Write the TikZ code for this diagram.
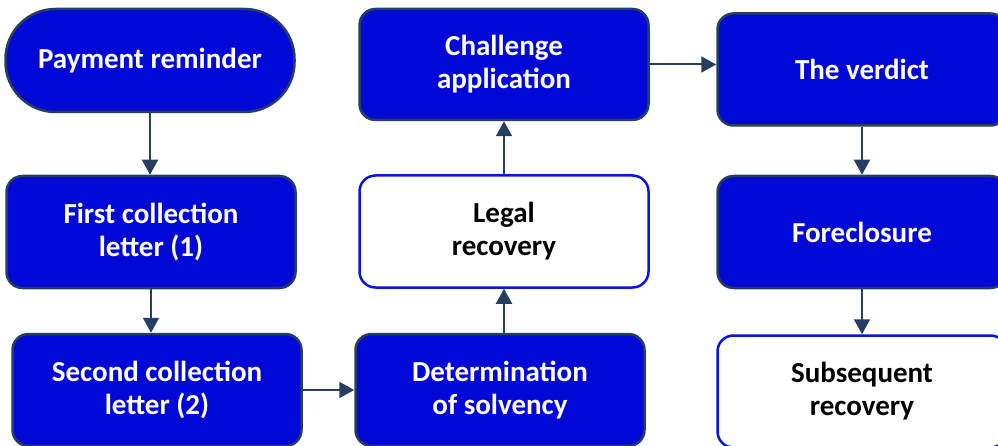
\documentclass[tikz,border=0pt]{standalone}
\usepackage{fontspec}
\setmainfont{Carlito}
\usetikzlibrary{arrows.meta}
\definecolor{boxblue}{RGB}{2,8,214}
\definecolor{edgenavy}{RGB}{38,62,98}
\definecolor{lineblue}{RGB}{10,20,226}
\def\colw{289}
\def\rowh{112}

\begin{document}
\begin{tikzpicture}[x=1pt, y=-1pt,
    stepbox/.style={draw=edgenavy, line width=2.5pt, fill=boxblue, text=white,
      rounded corners=16pt, minimum width=\colw pt, minimum height=\rowh pt,
      inner sep=0pt, align=center, font=\fontsize{29}{33}\selectfont\bfseries},
    stadium/.style={stepbox, minimum height=103pt, rounded corners=50pt},
    openbox/.style={stepbox, draw=lineblue, fill=white, text=black},
    flow/.style={draw=edgenavy, line width=2pt, -{Triangle[width=16pt, length=15pt]}}]
    \useasboundingbox (0,0) rectangle (998,446);

    \node[stadium] (remind) at (150,60.5) {Payment reminder};
    \node[stepbox] (first) at (151,232) {First collection\\letter (1)};
    \node[stepbox] (second) at (157,390) {Second collection\\letter (2)};
    \node[stepbox] (solv) at (500,390) {Determination\\of solvency};
    \node[openbox] (legal) at (504,231.5) {Legal\\recovery};
    \node[stepbox, minimum height=111pt] (appl) at (504,64.5) {Challenge\\application};
    \node[stepbox] (verdict) at (862,69.5) {The verdict};
    \node[stepbox] (forecl) at (862,232) {Foreclosure};
    \node[openbox] (later) at (862,391.5) {Subsequent\\recovery};

    \draw[flow] (remind.south) -- (remind.south |- first.north);
    \draw[flow] (first.south) -- (first.south |- second.north);
    \draw[flow] (second.east) -- (second.east -| solv.west);
    \draw[flow] (solv.north -| legal.south) -- (legal.south);
    \draw[flow] (legal) -- (appl);
    \draw[flow] (appl.east) -- (appl.east -| verdict.west);
    \draw[flow] (verdict) -- (forecl);
    \draw[flow] (forecl) -- (later);
\end{tikzpicture}
\end{document}
